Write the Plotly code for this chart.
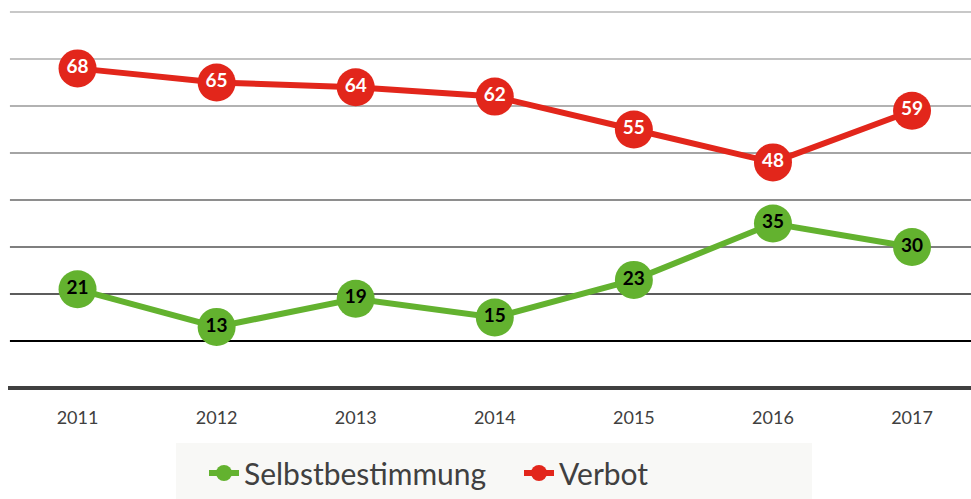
import plotly.graph_objects as go

years = ["2011", "2012", "2013", "2014", "2015", "2016", "2017"]
selbst = [21, 13, 19, 15, 23, 35, 30]
verbot = [68, 65, 64, 62, 55, 48, 59]
grid_vals = [10, 20, 30, 40, 50, 60, 70, 80]
grid_cols = ["#000000", "#5c5c5c", "#7f7f7f", "#8e8e8e", "#a4a4a4", "#b2b2b2", "#c2c2c2", "#c8c8c8"]

GREEN = "#63b22f"
RED = "#e2261b"
FONT = "Lato"
W, H = 971, 499
L, R, T, B = 8, 0, 0, 102
YMIN, YMAX = -1.915, 82.55

fig = go.Figure()
fig.add_trace(go.Scatter(
    x=years, y=selbst, name="Selbstbestimmung", mode="lines+markers+text",
    line=dict(color=GREEN, width=6), marker=dict(size=38, color=GREEN),
    text=[str(v) for v in selbst], textposition="middle center",
    textfont=dict(family=FONT, size=19, color="#000000", weight="bold"),
    cliponaxis=False,
))
fig.add_trace(go.Scatter(
    x=years, y=verbot, name="Verbot", mode="lines+markers+text",
    line=dict(color=RED, width=6), marker=dict(size=38, color=RED),
    text=[str(v) for v in verbot], textposition="middle center",
    textfont=dict(family=FONT, size=19, color="#ffffff", weight="bold"),
    cliponaxis=False,
))

shapes = []
for v, c in zip(grid_vals, grid_cols):
    shapes.append(dict(type="line", xref="paper", yref="y", x0=0.002, x1=1, y0=v, y1=v,
                       line=dict(color=c, width=2), layer="below"))
shapes.append(dict(type="line", xref="paper", yref="y", x0=0, x1=1, y0=0, y1=0,
                   line=dict(color="#404040", width=4), layer="below"))
pw = W - L - R
ph = H - T - B
def px(xp):
    return (xp - L) / pw
def py(yp):
    return (H - B - yp) / ph
shapes.append(dict(type="rect", xref="paper", yref="paper",
                   x0=px(176), x1=px(812), y0=py(443), y1=py(505),
                   fillcolor="#f8f8f6", line=dict(width=0), layer="below"))

fig.update_layout(
    width=W, height=H,
    margin=dict(l=L, r=R, t=T, b=B),
    paper_bgcolor="white", plot_bgcolor="white",
    shapes=shapes,
    showlegend=True,
    legend=dict(orientation="h", x=px(204), xanchor="left", y=py(473), yanchor="middle",
                bgcolor="rgba(0,0,0,0)", font=dict(family=FONT, size=30, color="#404040"),
                itemsizing="trace", entrywidth=270),
    xaxis=dict(type="category", range=[-0.5, 6.424], showgrid=False, zeroline=False, showline=False,
               ticks="", tickfont=dict(family=FONT, size=18, color="#404040"),
               ticklabelstandoff=8, fixedrange=True),
    yaxis=dict(range=[YMIN, YMAX], showgrid=False, zeroline=False, showline=False,
               showticklabels=False, ticks="", fixedrange=True),
)

fig.write_html("out.html", config={"displayModeBar": False},
               post_script="document.body.style.margin='0';")
